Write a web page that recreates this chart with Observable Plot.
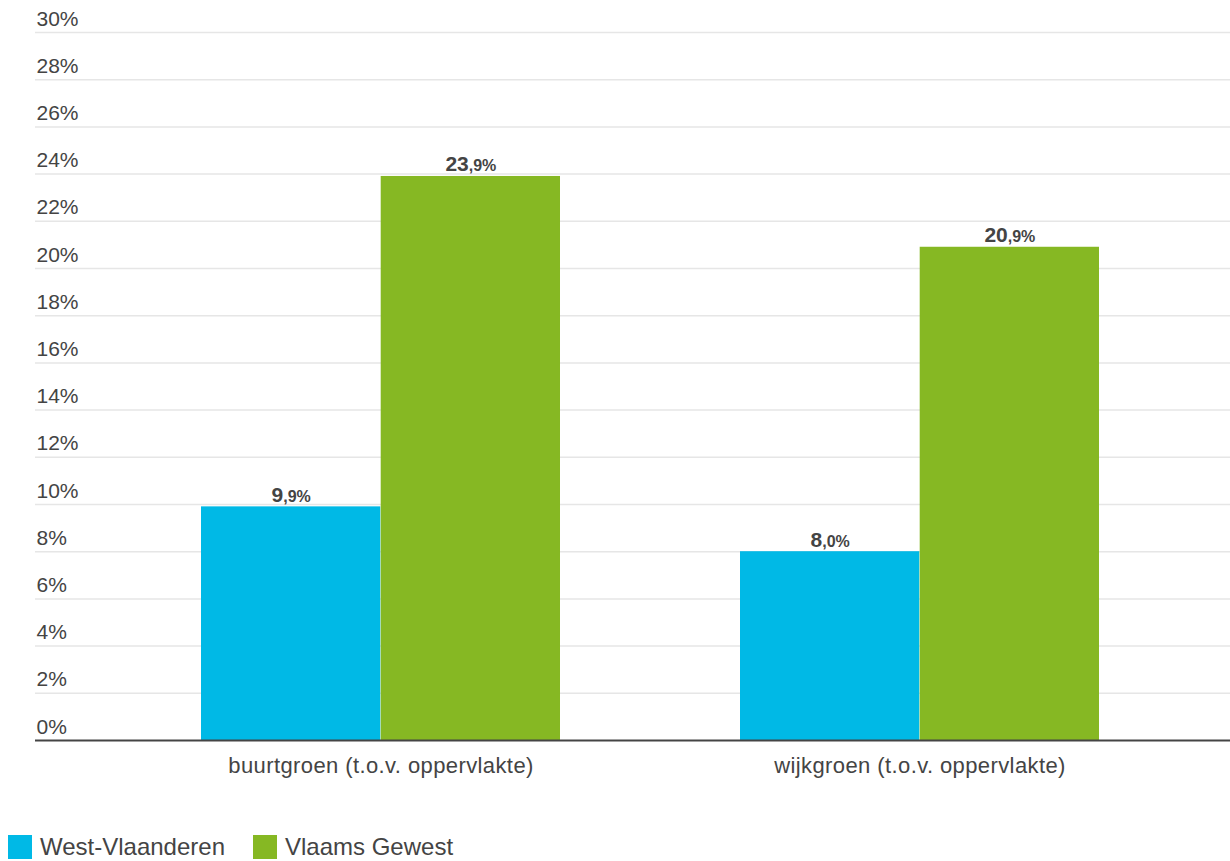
<!DOCTYPE html>
<html>
<head>
<meta charset="utf-8">
<script src="https://cdn.jsdelivr.net/npm/d3@7"></script>
<script src="https://cdn.jsdelivr.net/npm/@observablehq/plot@0.6"></script>
<style>
  html, body { margin: 0; padding: 0; background: #fff; }
  body { font-family: "Liberation Sans", Arial, sans-serif; color: #444; width: 1230px; }
  #legend { display: flex; align-items: center; margin-top: 25px; margin-left: 8px; font-size: 24px; line-height: 24px; height: 24px; color: #444; }
  .item { display: flex; align-items: center; margin-right: 28px; }
  .sw { width: 24px; height: 24px; margin-right: 8px; }
  .xax text { letter-spacing: 0.4px; }
</style>
</head>
<body>
<div id="chart"></div>
<div id="legend"></div>
<script>
const categories = ["buurtgroen (t.o.v. oppervlakte)", "wijkgroen (t.o.v. oppervlakte)"];
const series = ["West-Vlaanderen", "Vlaams Gewest"];
const westVlaanderen = [9.9, 8.0];
const vlaamsGewest = [23.9, 20.9];
const yTicks = [0, 2, 4, 6, 8, 10, 12, 14, 16, 18, 20, 22, 24, 26, 28, 30];
const colors = ["#00b9e6", "#86b823"];

const data = categories.flatMap((c, i) => [
  {cat: c, series: series[0], value: westVlaanderen[i]},
  {cat: c, series: series[1], value: vlaamsGewest[i]}
]);
const blue = data.filter(d => d.series === series[0]);
const green = data.filter(d => d.series === series[1]);
const fmt = v => v.toFixed(1).replace(".", ",") + "%";
const half = 179.7;

const plot = Plot.plot({
  width: 1230,
  height: 810,
  marginLeft: 35,
  marginRight: 0,
  marginTop: 32,
  marginBottom: 70,
  style: {fontFamily: '"Liberation Sans", Arial, sans-serif', color: "#444", background: "#fff"},
  x: {type: "band", domain: categories, range: [21.5, 1279.5], padding: 1/3, label: null},
  y: {domain: [0, 30], axis: null},
  color: {domain: series, range: colors},
  marks: [
    Plot.ruleY(yTicks.filter(d => d > 0), {stroke: "#e6e6e6", strokeWidth: 1.5}),
    Plot.text(yTicks, {y: d => d, text: d => d + "%", frameAnchor: "left", textAnchor: "start", lineAnchor: "bottom", dx: 1, dy: -7, fontSize: 21, fill: "#444"}),
    Plot.barY(blue, {x: "cat", y: "value", fill: "series", insetRight: half}),
    Plot.barY(green, {x: "cat", y: "value", fill: "series", insetLeft: half}),
    Plot.text(blue, {x: "cat", y: "value", text: d => fmt(d.value), dx: -half / 2, dy: -5, lineAnchor: "bottom", fill: "#444", className: "vlabel"}),
    Plot.text(green, {x: "cat", y: "value", text: d => fmt(d.value), dx: half / 2, dy: -5, lineAnchor: "bottom", fill: "#444", className: "vlabel"}),
    Plot.ruleY([0], {stroke: "#444", strokeWidth: 2}),
    Plot.axisX({tickSize: 0, tickPadding: 16.5, fontSize: 22, label: null, fill: "#444", className: "xax"})
  ]
});

// split value labels into a large integer part and a smaller decimal part
plot.querySelectorAll(".vlabel text").forEach(t => {
  const s = t.textContent;
  const i = s.indexOf(",");
  t.textContent = "";
  const a = document.createElementNS("http://www.w3.org/2000/svg", "tspan");
  a.textContent = s.slice(0, i);
  a.setAttribute("font-size", "21");
  a.setAttribute("font-weight", "bold");
  const b = document.createElementNS("http://www.w3.org/2000/svg", "tspan");
  b.textContent = s.slice(i);
  b.setAttribute("font-size", "16");
  b.setAttribute("font-weight", "bold");
  t.appendChild(a);
  t.appendChild(b);
});

document.getElementById("chart").appendChild(plot);

const legend = document.getElementById("legend");
series.forEach((s, i) => {
  const item = document.createElement("div");
  item.className = "item";
  const sw = document.createElement("div");
  sw.className = "sw";
  sw.style.background = colors[i];
  const lab = document.createElement("span");
  lab.textContent = s;
  item.appendChild(sw);
  item.appendChild(lab);
  legend.appendChild(item);
});
</script>
</body>
</html>
